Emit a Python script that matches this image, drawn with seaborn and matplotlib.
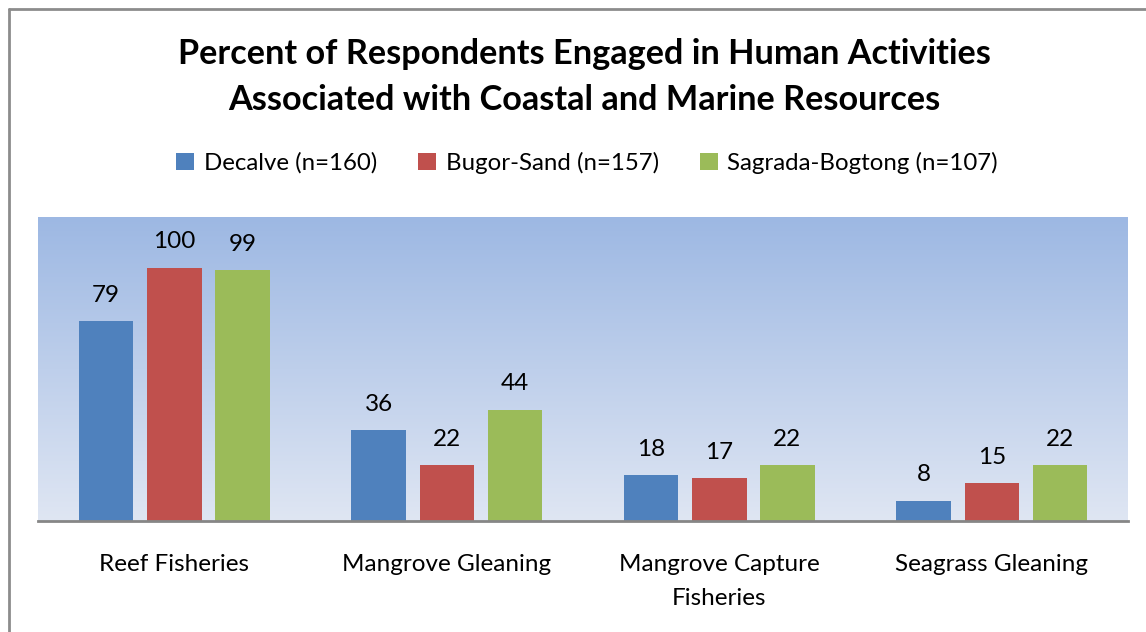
import numpy as np
import pandas as pd
import matplotlib
matplotlib.use("Agg")
import matplotlib.pyplot as plt
import seaborn as sns
from matplotlib.colors import LinearSegmentedColormap
from matplotlib.lines import Line2D

categories = ["Reef Fisheries", "Mangrove Gleaning", "Mangrove Capture\nFisheries", "Seagrass Gleaning"]
series = ["Decalve (n=160)", "Bugor-Sand (n=157)", "Sagrada-Bogtong (n=107)"]
decalve = [79, 36, 18, 8]
bugor = [100, 22, 17, 15]
sagrada = [99, 44, 22, 22]
colors = ["#4f81bd", "#c0504d", "#9bbb59"]

rows = []
for s, vals in zip(series, [decalve, bugor, sagrada]):
    for c, v in zip(categories, vals):
        rows.append({"Category": c, "Site": s, "Percent": v})
df = pd.DataFrame(rows)

sns.set_theme(style="white")
plt.rcParams['font.family'] = ['Lato', 'DejaVu Sans']
plt.rcParams['text.color'] = 'black'

fig = plt.figure(figsize=(11.46, 6.32), dpi=100)
W, H = 1146, 632
ax = fig.add_axes([38 / W, 1 - 521 / H, (1128 - 38) / W, (521 - 217) / H])

# gradient background
cmap = LinearSegmentedColormap.from_list("bg", ["#dfe6f3", "#9db8e3"])
grad = np.linspace(0, 1, 256).reshape(-1, 1)
ax.imshow(grad, cmap=cmap, origin="lower", aspect="auto",
          extent=[-0.5, 3.5, 0, 120], zorder=0)

sns.barplot(data=df, x="Category", y="Percent", hue="Site", palette=colors,
            width=0.75, gap=0.2, ax=ax, saturation=1, zorder=2, legend=True,
            linewidth=0)

for cont in ax.containers:
    ax.bar_label(cont, padding=11, fontsize=17.5, color="black")

ax.set_xlim(-0.5, 3.5)
ax.set_ylim(0, 120)
ax.set_xlabel("")
ax.set_ylabel("")
ax.set_yticks([])
for side in ["top", "right", "left"]:
    ax.spines[side].set_visible(False)
ax.spines["bottom"].set_color("#868686")
ax.spines["bottom"].set_linewidth(2)
ax.tick_params(axis="x", length=0, pad=24, labelsize=17.5, colors="black")
for lbl in ax.get_xticklabels():
    lbl.set_linespacing(1.75)

leg = ax.get_legend()
handles = leg.legend_handles
labels = [t.get_text() for t in leg.get_texts()]
leg.remove()
fig.legend(handles, labels, loc="center", bbox_to_anchor=(587 / W, 1 - 163 / H),
           ncol=3, frameon=False, fontsize=17.3, handlelength=0.75, handleheight=0.75,
           handletextpad=0.4, columnspacing=1.7, labelcolor="black")

fig.text(584 / W, 1 - 77 / H,
         "Percent of Respondents Engaged in Human Activities\nAssociated with Coastal and Marine Resources",
         ha="center", va="center", fontsize=24.7, fontweight="bold", linespacing=1.5,
         color="black")

# chart border (top and left visible)
fig.add_artist(Line2D([8.5 / W, 1.0], [1 - 8.5 / H, 1 - 8.5 / H], color="#8c8c8c", lw=2,
                      transform=fig.transFigure))
fig.add_artist(Line2D([8.5 / W, 8.5 / W], [0, 1 - 8.5 / H], color="#8c8c8c", lw=2,
                      transform=fig.transFigure))

fig.savefig("out.png", dpi=100)
